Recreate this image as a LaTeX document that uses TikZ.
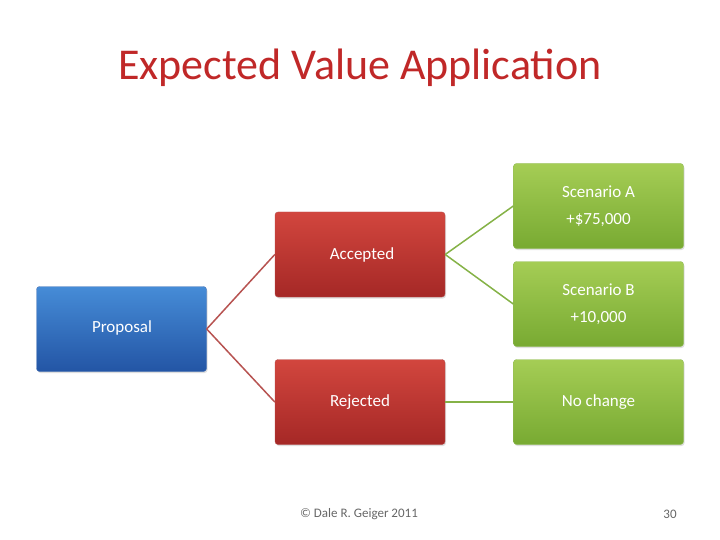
\documentclass[tikz,border=0pt]{standalone}
\usepackage{fontspec}
\setmainfont{Carlito}
\usetikzlibrary{shadows}
\definecolor{btop}{RGB}{70,140,215}\definecolor{bbot}{RGB}{35,85,165}
\definecolor{rtop}{RGB}{210,70,62}\definecolor{rbot}{RGB}{165,40,38}
\definecolor{gtop}{RGB}{165,205,85}\definecolor{gbot}{RGB}{120,170,50}
\definecolor{tred}{RGB}{192,40,40}
\tikzset{
 box/.style={rounded corners=3pt,minimum width=170pt,minimum height=85pt,inner sep=0pt,text=white,font=\fontsize{17}{20}\selectfont,drop shadow={opacity=0.25,shadow xshift=1pt,shadow yshift=-1.5pt}},
 bluebox/.style={box,top color=btop,bottom color=bbot,draw=bbot!80},
 redbox/.style={box,top color=rtop,bottom color=rbot,draw=rbot!80},
 greenbox/.style={box,top color=gtop,bottom color=gbot,draw=gbot!80},
 redline/.style={draw=rbot!80,line width=1.5pt},
 greenline/.style={draw=gbot!90,line width=1.5pt},
 lbl/.style={text=white,font=\fontsize{17}{20}\selectfont}
}
\begin{document}
\begin{tikzpicture}[x=1pt,y=-1pt]
\useasboundingbox (0,0) rectangle (720,540);
\node[text=tred,font=\fontsize{44}{50}\selectfont] (title) at (360,68) {Expected Value Application};
\node[bluebox] (prop) at (121.5,329) {};
\node[lbl] at (122,328) {Proposal};
\node[redbox] (acc) at (360,254.5) {};
\node[lbl] at (362,255) {Accepted};
\node[redbox] (rej) at (360,402) {Rejected};
\node[greenbox,align=center] (sa) at (598.5,206) {Scenario A\\[7pt]+\$75,000};
\node[greenbox,align=center] (sb) at (598.5,304) {Scenario B\\[7pt]+10,000};
\node[greenbox] (nc) at (598.5,402) {No change};
\draw[redline] (prop.east) -- (acc.west);
\draw[redline] (prop.east) -- (rej.west);
\draw[greenline] (acc.east) -- (sa.west);
\draw[greenline] (acc.east) -- (sb.west);
\draw[greenline] (rej.east) -- (nc.west);
\node[text=black!60,font=\fontsize{13}{15}\selectfont] (foot) at (359,514) {© Dale R. Geiger 2011};
\node[text=black!60,font=\fontsize{13}{15}\selectfont] (pg) at (670,514) {30};
\end{tikzpicture}
\end{document}
